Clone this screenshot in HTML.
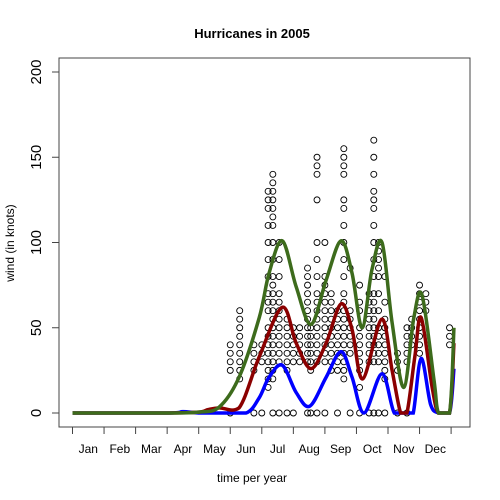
<!DOCTYPE html>
<html><head><meta charset="utf-8"><style>
body{margin:0;background:#fff}
svg{display:block;font-family:"Liberation Sans",Arial,sans-serif}
</style></head><body>
<svg id="chart" width="500" height="500" viewBox="0 0 500 500">
<text x="252" y="38" text-anchor="middle" font-size="13" font-weight="bold">Hurricanes in 2005</text>
<rect x="59" y="58" width="411" height="369" fill="none" stroke="#444" stroke-width="1"/>
<text x="252" y="482" text-anchor="middle" font-size="12">time per year</text>
<text transform="translate(14,243) rotate(-90)" text-anchor="middle" font-size="12">wind (in knots)</text>
<g id="axes"></g><g id="pts"></g><g id="lines"></g>
</svg>
<script>
const monthLabels=["Jan","Feb","Mar","Apr","May","Jun","Jul","Aug","Sep","Oct","Nov","Dec"];
const yTicks=[0,50,100,150,200];
const colMonths=[5.0,5.3,5.75,6.0,6.2,6.35,6.55,6.8,7.0,7.2,7.45,7.55,7.75,8.0,8.2,8.4,8.6,8.8,9.1,9.4,9.55,9.7,9.9,10.3,10.6,10.75,11.0,11.2,11.95];
const colWinds=[
[0,40,35,30,25],
[60,55,50,45,40,35,30,25,20],
[40,35,30,25,0],
[40,35,30,0],
[130,125,120,110,100,90,80,70,65,60,50,45,40,35,30,25,20,15],
[140,135,130,125,120,115,110,100,90,80,75,70,65,60,55,50,45,40,35,30,25,20,0],
[100,90,80,70,65,60,55,50,45,40,35,30,0],
[55,50,45,40,35,30,25,0],
[50,45,40,35,30,0],
[50,45,40,35,30],
[85,80,75,70,65,60,55,50,45,40,35,30,0],
[50,45,40,35,30,25,0],
[150,145,140,125,100,90,80,70,65,60,55,50,45,40,35,30,0],
[100,80,75,70,65,60,55,50,45,40,35,30,0],
[70,65,60,55,50,45,40,35,30,25],
[60,55,50,45,40,35,30,25,0],
[155,150,145,140,125,120,110,100,90,80,70,65,60,55,50,45,40,35,30,25,20],
[85,60,55,50,45,40,35,0],
[75,65,60,50,45,40,35,30,25,15,0],
[70,65,60,55,50,45,40,35,30,0],
[160,150,140,130,125,120,110,100,90,80,70,65,60,55,50,45,40,35,30,0],
[100,95,90,85,80,70,60,50,45,40,35,30,0],
[80,65,55,50,45,40,35,30,25,20,0],
[35,30,25,0],
[50,45,40,35,30,0],
[55,50,45,40],
[75,70,65,60,55,50,45,40,35],
[70,65,60],
[50,45,40]];
const greenM=[0,3,4,4.65,5.28,5.92,6.23,6.65,7.09,7.56,8.04,8.51,8.86,9.18,9.49,9.81,10.13,10.5,10.82,11.08,11.46,11.6,11.95,12.09];
const greenV=[0,0,0.5,3.5,21,56,82,101,74,52,78,101,82,50,84,100,53,15,56,69,19,0,0,50];
const redM=[0,3,4,4.3,4.65,5.28,5.92,6.65,7.09,7.56,8.04,8.51,8.86,9.2,9.8,10.13,10.4,10.6,10.85,11.05,11.4,11.6,11.95,12.09];
const redV=[0,0,0.5,2,3,3,33,62,41,26,41,64,49,20,55,25,0,0,33,56,15,0,0,41];
const blueM=[0,3,3.5,4,4.65,5.5,5.92,6.23,6.65,7.09,7.52,8.04,8.51,8.86,9.24,9.81,10.2,10.6,10.8,11.05,11.35,11.6,11.95,12.09];
const blueV=[0,0,0.8,0,0,0,9,21,28,12,4,21,36,21,0,23,0,0,0,32,5,0,0,26];

const NS='http://www.w3.org/2000/svg';
const xs=m=>72.5+m*31.55;
const ys=v=>413-v*1.705;
function mk(tag,attrs,parent){const e=document.createElementNS(NS,tag);for(const k in attrs)e.setAttribute(k,attrs[k]);parent.appendChild(e);return e;}
const axes=document.getElementById('axes');
for(let i=0;i<=12;i++){
  const t=mk('line',{x1:xs(i),x2:xs(i),y1:427,y2:434,stroke:'#444'},axes);
  
  
}
monthLabels.forEach((l,i)=>{
  const t=mk('text',{x:xs(i+0.5),y:453,'text-anchor':'middle','font-size':'12'},axes);
  t.textContent=l;
  
  
});
yTicks.forEach(v=>{
  const y=ys(v);
  const t=mk('line',{x1:52,x2:59,y1:y,y2:y,stroke:'#444'},axes);
  
  
  const l=mk('text',{transform:`translate(41,${y}) rotate(-90)`,'text-anchor':'middle','font-size':'15'},axes);
  l.textContent=v;
  
  
});
const pts=document.getElementById('pts');
colMonths.forEach((m,i)=>{
  colWinds[i].forEach(w=>{
    const c=mk('circle',{cx:xs(m),cy:ys(w),r:3,fill:'none',stroke:'#000','stroke-width':'0.9'},pts);
    
    
  });
});
function pathFor(M,V){
  const P=M.map((m,i)=>[xs(m),ys(Math.max(0,V[i]))]);
  let d=`M${P[0][0]},${P[0][1]}`;
  for(let i=0;i<P.length-1;i++){
    const p0=P[Math.max(0,i-1)],p1=P[i],p2=P[i+1],p3=P[Math.min(P.length-1,i+2)];
    let c1y=p1[1]+(p2[1]-p0[1])/6,c2y=p2[1]-(p3[1]-p1[1])/6;
    c1y=Math.min(c1y,413);c2y=Math.min(c2y,413);
    d+=` C${p1[0]+(p2[0]-p0[0])/6},${c1y} ${p2[0]-(p3[0]-p1[0])/6},${c2y} ${p2[0]},${p2[1]}`;
  }
  return d;
}
const lines=document.getElementById('lines');
const g=mk('path',{d:pathFor(greenM,greenV),fill:'none',stroke:'#3d6b1c','stroke-width':'3.5'},lines);


const r=mk('path',{d:pathFor(redM,redV),fill:'none',stroke:'#8b0000','stroke-width':'3.5'},lines);


const b=mk('path',{d:pathFor(blueM,blueV),fill:'none',stroke:'#0000ff','stroke-width':'3.5'},lines);


lines.insertBefore(b,lines.firstChild);
lines.insertBefore(r,g);
</script>
</body></html>
